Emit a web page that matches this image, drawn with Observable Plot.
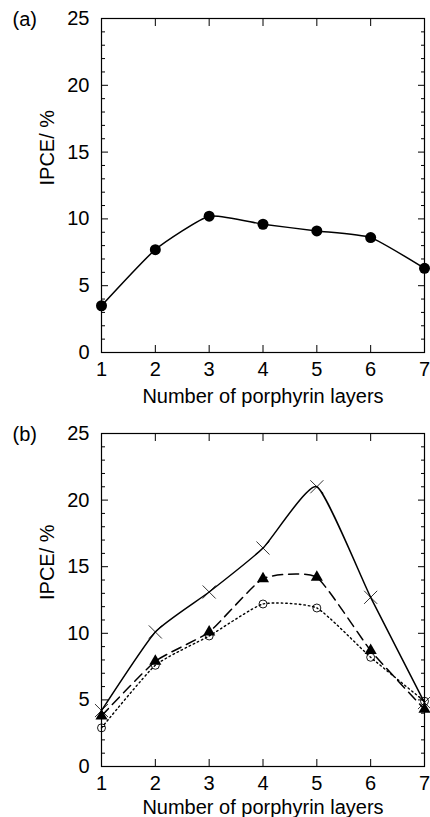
<!DOCTYPE html>
<html>
<head>
<meta charset="utf-8">
<script src="https://cdn.jsdelivr.net/npm/d3@7"></script>
<script src="https://cdn.jsdelivr.net/npm/@observablehq/plot@0.6"></script>
<style>
  body { margin: 0; background: white; }
  #wrap { width: 430px; }
  #wrap svg { display: block; overflow: visible; }
</style>
</head>
<body>
<div id="wrap"></div>
<script>
// ---- data ----
const layers = [1, 2, 3, 4, 5, 6, 7];
const ipceA = [3.5, 7.7, 10.2, 9.6, 9.1, 8.6, 6.3];
const ipceBCross = [4.2, 10.1, 13.1, 16.4, 21.0, 12.7, 4.8];
const ipceBTriangle = [3.8, 7.9, 10.1, 14.1, 14.2, 8.7, 4.3];
const ipceBCircle = [2.9, 7.6, 9.8, 12.2, 11.9, 8.2, 4.9];
const yMajor = [0, 5, 10, 15, 20, 25];
const yMinor = [1, 2, 3, 4, 6, 7, 8, 9, 11, 12, 13, 14, 16, 17, 18, 19, 21, 22, 23, 24];
const xTicks = [1, 2, 3, 4, 5, 6, 7];
const xLabel = "Number of porphyrin layers";
const yLabel = "IPCE/ %";
const panelLabels = ["(a)", "(b)"];

const toRows = vals => layers.map((x, i) => ({x, y: vals[i]}));

function frameMarks(panel, labelDy) {
  return [
    Plot.frame({stroke: "black", strokeWidth: 1.2}),
    // inward ticks
    Plot.axisY({anchor: "left", ticks: yMajor, tickSize: 7, dx: 7, fill: "none", label: null, stroke: "black"}),
    Plot.axisY({anchor: "left", ticks: yMinor, tickSize: 4, dx: 4, fill: "none", label: null, stroke: "black"}),
    Plot.axisY({anchor: "right", ticks: yMajor, tickSize: 7, dx: -7, fill: "none", label: null, stroke: "black"}),
    Plot.axisY({anchor: "right", ticks: yMinor, tickSize: 4, dx: -4, fill: "none", label: null, stroke: "black"}),
    Plot.axisX({anchor: "bottom", ticks: xTicks, tickSize: 7, dy: -7, fill: "none", label: null, stroke: "black"}),
    Plot.axisX({anchor: "top", ticks: xTicks, tickSize: 7, dy: 7, fill: "none", label: null, stroke: "black"}),
    // tick labels
    Plot.axisY({anchor: "left", ticks: yMajor, tickFormat: "d", tickSize: 0, tickPadding: 12, label: null, fill: "black"}),
    Plot.axisX({anchor: "bottom", ticks: xTicks, tickFormat: "d", tickSize: 0, tickPadding: 9, label: null, fill: "black"}),
    // axis titles
    Plot.text([xLabel], {text: d => d, frameAnchor: "bottom", dy: labelDy, lineAnchor: "top", fill: "black"}),
    Plot.text([yLabel], {text: d => d, frameAnchor: "left", dx: -54, rotate: -90, fill: "black"}),
    Plot.text([panelLabels[panel]], {text: d => d, frameAnchor: "top-left", dx: -89, dy: 1, textAnchor: "start", lineAnchor: "middle", fill: "black"})
  ];
}

const style = {fontFamily: "'Liberation Sans', Arial, sans-serif", fontSize: "20px", background: "white", color: "black", overflow: "visible"};
const curve = {curve: "cardinal", tension: 0.5};

const chartA = Plot.plot({
  width: 430, height: 408,
  marginTop: 18, marginBottom: 56, marginLeft: 101, marginRight: 6,
  x: {domain: [1, 7]}, y: {domain: [0, 25]},
  style,
  marks: [
    ...frameMarks(0, 36),
    Plot.line(toRows(ipceA), {x: "x", y: "y", ...curve, stroke: "black", strokeWidth: 1.5}),
    Plot.dot(toRows(ipceA), {x: "x", y: "y", r: 5.5, fill: "black", stroke: "none"})
  ]
});

const chartB = Plot.plot({
  width: 430, height: 409,
  marginTop: 25, marginBottom: 51, marginLeft: 101, marginRight: 6,
  x: {domain: [1, 7]}, y: {domain: [0, 25]},
  style,
  marks: [
    ...frameMarks(1, 33),
    Plot.line(toRows(ipceBCircle), {x: "x", y: "y", ...curve, stroke: "black", strokeWidth: 1.4, strokeDasharray: "1.5,3", strokeLinecap: "round"}),
    Plot.line(toRows(ipceBTriangle), {x: "x", y: "y", ...curve, stroke: "black", strokeWidth: 1.5, strokeDasharray: "10,6"}),
    Plot.line(toRows(ipceBCross), {x: "x", y: "y", ...curve, stroke: "black", strokeWidth: 1.5}),
    Plot.dot(toRows(ipceBCircle), {x: "x", y: "y", r: 4, fill: "none", stroke: "black", strokeWidth: 0.9}),
    Plot.dot(toRows(ipceBTriangle), {x: "x", y: "y", symbol: "triangle", r: 4.5, fill: "black", stroke: "none"}),
    Plot.dot(toRows(ipceBCross), {x: "x", y: "y", symbol: "times", r: 6, fill: "none", stroke: "black", strokeWidth: 0.8})
  ]
});

document.getElementById("wrap").append(chartA, chartB);
</script>
</body>
</html>
